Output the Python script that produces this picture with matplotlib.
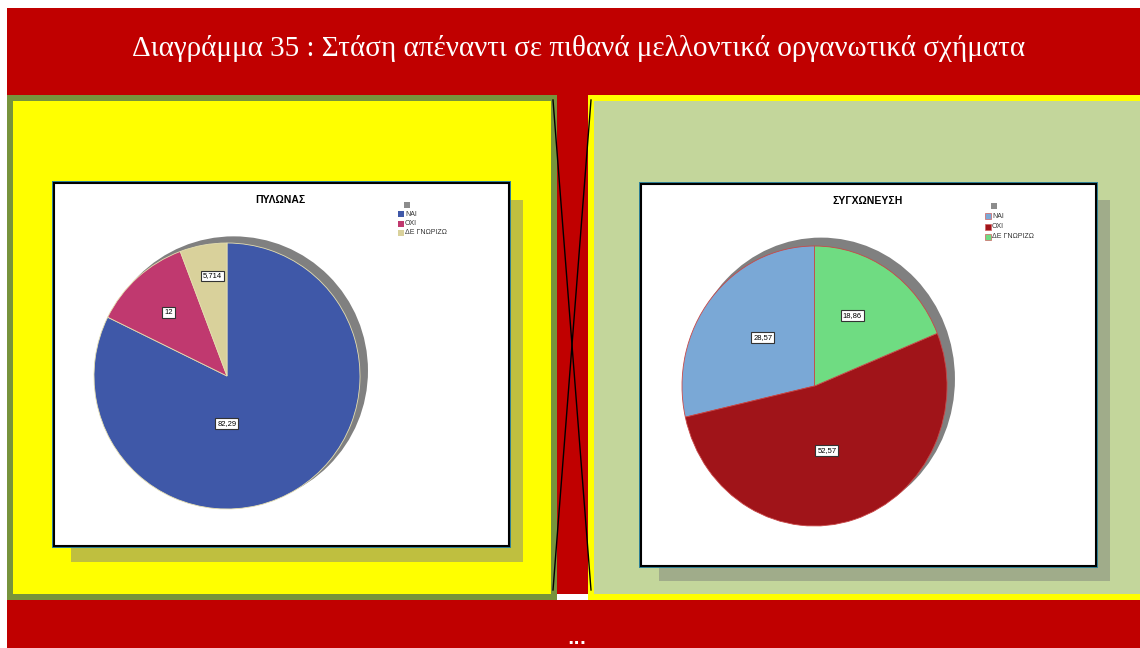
import matplotlib
matplotlib.use("Agg")
import matplotlib.pyplot as plt
from matplotlib.patches import Rectangle, Ellipse
import numpy as np

# ---- data ----
title_text = "Διαγράμμα 35 : Στάση απέναντι σε πιθανά μελλοντικά οργανωτικά σχήματα"
categories = ['ΝΑΙ', 'ΟΧΙ', 'ΔΕ ΓΝΩΡΙΖΩ']
pylonas_title = 'ΠΥΛΩΝΑΣ'
pylonas_values = [82.29, 12, 5.714]
sygx_title = 'ΣΥΓΧΩΝΕΥΣΗ'
sygx_values = [28.57, 52.57, 18.86]

# ---- style ----
W, H = 1140, 648
RED = '#C00000'
YELLOW = '#FFFF00'
OLIVE = '#77933C'
SAGE = '#C3D69B'
TEAL = '#31849B'
left_colors = ['#3F58A8', '#C0396F', '#D9D19B']
right_colors = ['#7AA8D6', '#A01419', '#6FDC82']

fig = plt.figure(figsize=(W / 100, H / 100), dpi=100)
fig.patch.set_facecolor('white')

bg = fig.add_axes([0, 0, 1, 1])
bg.set_xlim(0, W)
bg.set_ylim(H, 0)
bg.axis('off')


def rect(x0, y0, x1, y1, fc, ec='none', lw=0, z=1):
    bg.add_patch(Rectangle((x0, y0), x1 - x0, y1 - y0, facecolor=fc,
                           edgecolor=ec, linewidth=lw, zorder=z))


# red slide background
rect(7, 8, W, H, RED, z=0)
# left panel
rect(7, 95, 557, 600, OLIVE, z=1)
rect(13, 101, 551, 594, YELLOW, z=2)
# right panel
rect(588, 95, W, 600, YELLOW, z=1)
rect(594, 101, W, 594, SAGE, z=2)
# white gap between panels at bottom
rect(557, 594, 588, 600, 'white', z=1)
# crossing lines
bg.plot([553, 591], [100, 590], color='black', lw=1, zorder=3)
bg.plot([591, 553], [100, 590], color='black', lw=1, zorder=3)

# chart boxes with shadows
rect(71, 200, 523, 562, '#BFBF3F', z=3)
rect(52, 181, 511, 548, TEAL, z=4)
rect(54, 183, 509, 546, 'white', ec='black', lw=1.5, z=5)

rect(659, 200, 1110, 581, '#A0AC8A', z=3)
rect(639, 182, 1098, 568, TEAL, z=4)
rect(641, 184, 1096, 566, 'white', ec='black', lw=1.5, z=5)

# header title & footer dots
bg.text(579, 48, title_text, color='white', fontsize=21,
        family='Liberation Serif', ha='center', va='center', zorder=6)
bg.text(577, 639, '...', color='white', fontsize=12, fontweight='bold',
        ha='center', va='center', zorder=6)


def fpos(x0, y0, x1, y1):
    return [x0 / W, 1 - y1 / H, (x1 - x0) / W, (y1 - y0) / H]


def fmt(v):
    return f"{v:g}".replace('.', ',')


def draw_pie(box, values, colors, counterclock, edgecolor, shadow_off,
             label_adj):
    ax = fig.add_axes(fpos(*box))
    ax.patch.set_alpha(0)
    ax.add_patch(Ellipse(shadow_off, 2.02, 2.02, facecolor='#808080',
                         edgecolor='none', zorder=0, clip_on=False))
    wedges, _ = ax.pie(values, colors=colors, startangle=90,
                       counterclock=counterclock,
                       wedgeprops=dict(edgecolor=edgecolor, linewidth=0.6))
    ax.set_aspect('auto')
    ax.set_xlim(-1, 1)
    ax.set_ylim(-1, 1)
    ax.axis('off')
    for w in wedges:
        w.set_clip_on(False)
    for w, v, (da, r) in zip(wedges, values, label_adj):
        ang = np.deg2rad((w.theta1 + w.theta2) / 2 + da)
        ax.text(r * np.cos(ang), r * np.sin(ang), fmt(v), fontsize=5.5,
                family='Liberation Sans', ha='center', va='center',
                bbox=dict(boxstyle='square,pad=0.25', fc='white',
                          ec='#333333', lw=0.8), zorder=5)
    return ax


draw_pie((94, 243, 360, 509), pylonas_values, left_colors, False,
         '#E6DFB0', (0.05, 0.04),
         [(-32, 0.36), (0.5, 0.65), (-2, 0.76)])
draw_pie((682, 246, 947, 526), sygx_values, right_colors, True,
         '#C84848', (0.05, 0.05),
         [(-3, 0.52), (-6, 0.47), (4.5, 0.58)])

# titles
bg.text(280, 200, pylonas_title, fontsize=7.5, fontweight='bold',
        family='Liberation Sans', ha='center', va='center', zorder=6)
bg.text(868, 201, sygx_title, fontsize=7.5, fontweight='bold',
        family='Liberation Sans', ha='center', va='center', zorder=6)


def legend(x, y0, dy, colors, edge):
    s = 6
    rect(x + 6, y0 - 3 - dy, x + 6 + s, y0 - 3 - dy + s, '#8C8C8C', z=6)
    for i, (c, name) in enumerate(zip(colors, categories)):
        y = y0 + i * dy
        rect(x, y - s / 2, x + s, y + s / 2, c, ec=edge, lw=0.5, z=6)
        bg.text(x + s + 1, y, name, fontsize=5, family='Liberation Sans',
                color='#333333', ha='left', va='center', zorder=7)


legend(398, 214, 9.5, left_colors, 'none')
legend(985, 216, 10.5, right_colors, '#D06060')

fig.savefig('out.png', dpi=100)
